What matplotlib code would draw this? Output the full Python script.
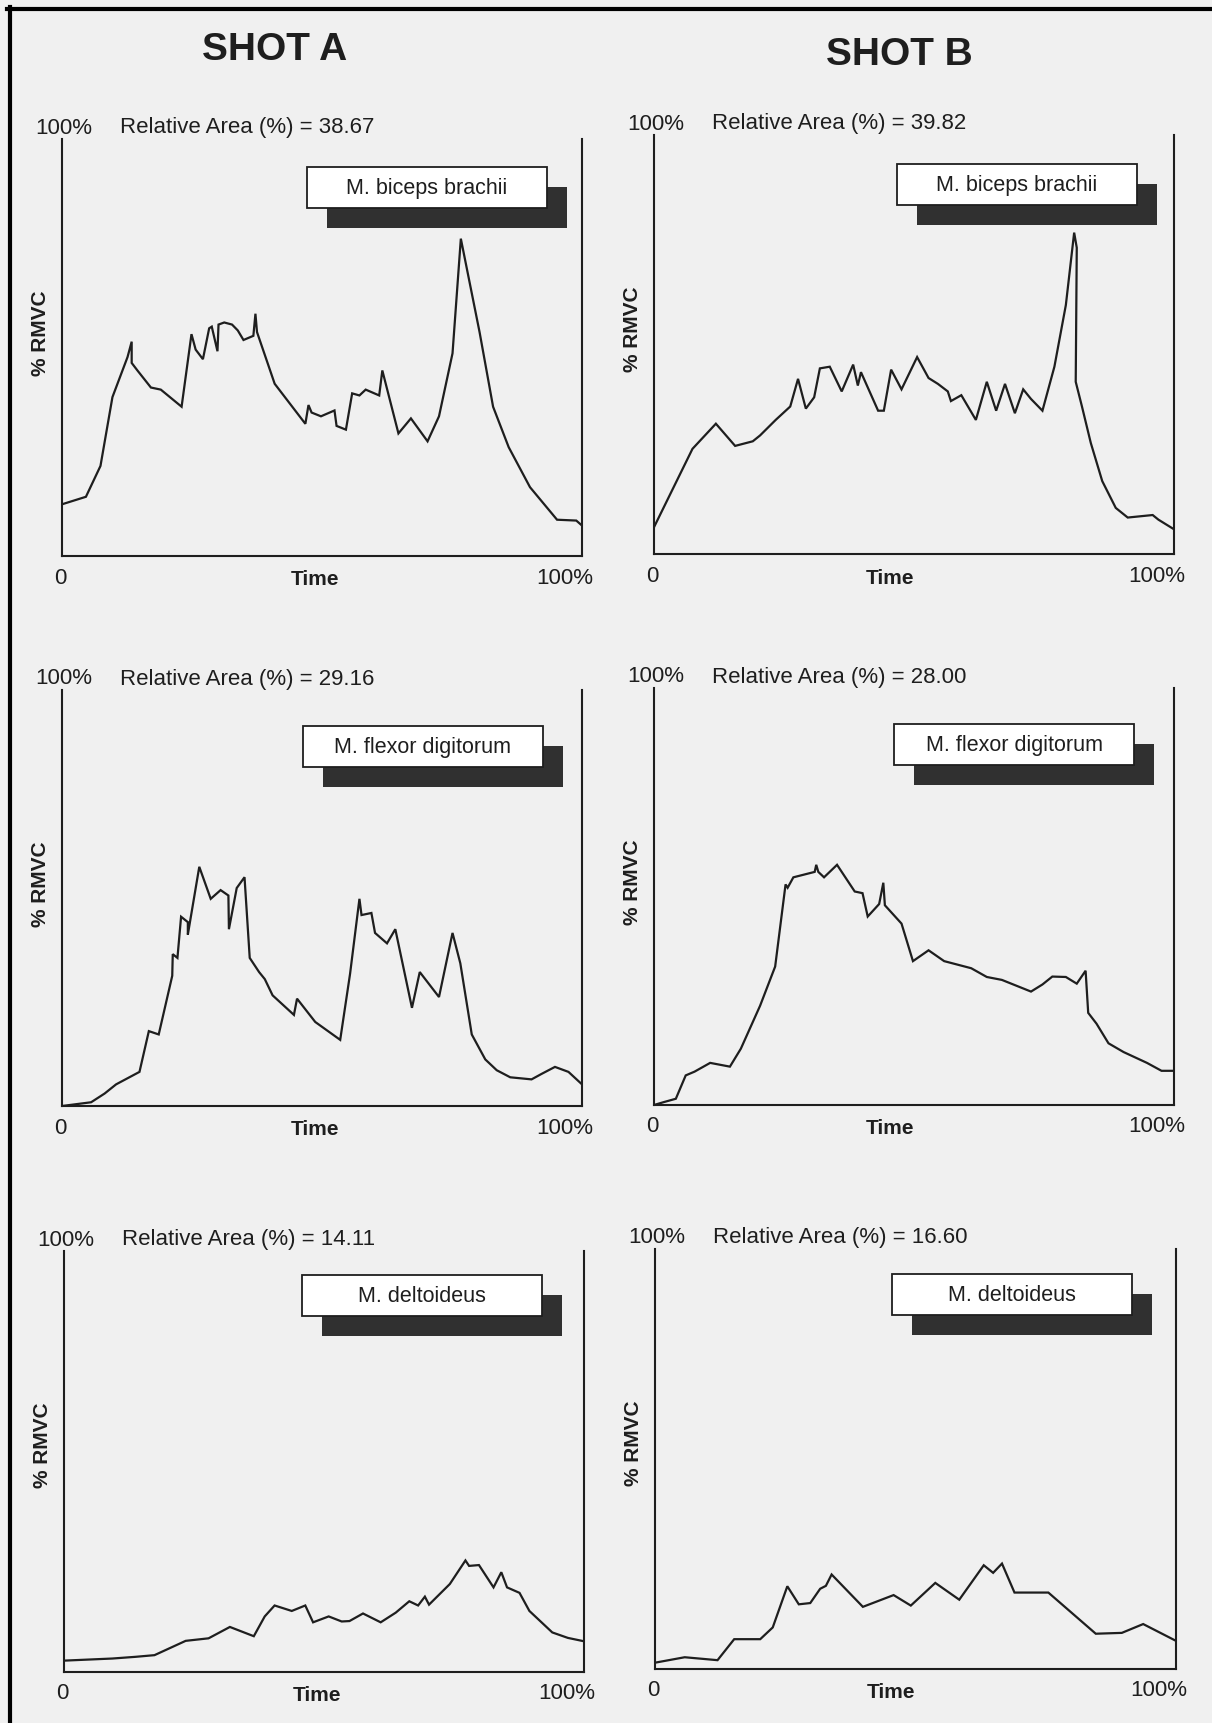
import matplotlib
matplotlib.use("Agg")
import matplotlib.pyplot as plt
from matplotlib.patches import Rectangle
from matplotlib.lines import Line2D

plt.rcParams['font.family'] = ['Liberation Sans', 'DejaVu Sans']

# ---------------- data (time %, %RMVC) ----------------
shot_titles = ["SHOT A", "SHOT B"]
muscles = ["M. biceps brachii", "M. flexor digitorum", "M. deltoideus"]
rel_area_a = ["38.67", "29.16", "14.11"]
rel_area_b = ["39.82", "28.00", "16.60"]

a_biceps_x = [0, 4.6, 7.4, 9.7, 12.6, 13.4, 13.4, 14.5, 17.1, 19.0, 23.0, 24.9, 25.7, 27.1, 28.3, 28.8,
              29.9, 30.1, 31.2, 32.7, 33.8, 34.9, 36.8, 37.2, 37.5, 40.9, 46.8, 47.4, 48.0, 49.8, 52.4,
              52.8, 54.6, 55.8, 57.2, 58.4, 61.0, 61.6, 64.7, 67.1, 70.3, 72.5, 75.1, 76.7, 80.3, 82.9,
              85.9, 90.0, 95.2, 98.9, 100]
a_biceps_y = [12.4, 14.2, 21.6, 38.1, 47.7, 51.4, 46.3, 44.5, 40.4, 39.9, 35.8, 53.2, 49.5, 47.2, 54.6, 55.0,
              49.1, 55.5, 56.0, 55.5, 54.1, 51.8, 52.8, 58.1, 53.7, 41.3, 31.7, 36.2, 34.4, 33.5, 34.9,
              31.2, 30.3, 39.0, 38.5, 39.9, 38.5, 44.5, 29.4, 33.0, 27.5, 33.5, 48.6, 76.1, 53.7, 35.8,
              26.1, 16.5, 8.7, 8.5, 7.3]

b_biceps_x = [0, 7.4, 11.9, 15.6, 19.0, 20.4, 23.4, 26.2, 27.7, 29.2, 30.8, 31.9, 33.8, 36.1, 38.3, 39.2,
              39.8, 43.1, 44.2, 45.6, 47.6, 50.6, 52.8, 54.6, 56.5, 57.1, 59.1, 61.9, 64.0, 65.8, 67.5,
              69.4, 71.0, 72.5, 74.7, 77.0, 79.2, 80.8, 81.3, 81.1, 82.3, 84.0, 86.2, 88.8, 91.1, 95.9,
              97.0, 100]
b_biceps_y = [6.4, 25.1, 31.1, 25.8, 26.9, 28.3, 32.0, 35.2, 41.8, 34.7, 37.4, 44.3, 44.7, 38.8, 45.2, 40.2,
              43.4, 34.2, 34.2, 44.0, 39.3, 47.0, 42.0, 40.6, 38.8, 36.5, 37.9, 32.0, 41.1, 34.2, 40.6,
              33.6, 39.3, 37.0, 34.2, 44.7, 59.4, 76.7, 73.1, 41.1, 35.2, 26.5, 17.4, 11.0, 8.7, 9.3,
              8.2, 5.9]

a_flexor_x = [0, 5.6, 8.2, 10.4, 11.9, 14.9, 16.7, 18.6, 21.2, 21.3, 22.2, 22.9, 24.2, 24.2, 26.4, 28.6,
              30.5, 32.0, 32.1, 33.6, 35.1, 36.1, 37.9, 39.0, 40.5, 44.6, 45.2, 48.7, 53.5, 55.4, 57.2,
              57.6, 59.5, 60.2, 62.5, 64.1, 67.3, 68.8, 72.5, 75.1, 76.6, 78.8, 81.4, 83.6, 86.2, 90.3,
              92.2, 94.8, 97.4, 100]
a_flexor_y = [0, 0.9, 3.0, 5.2, 6.2, 8.2, 18.0, 17.2, 31.3, 36.5, 35.6, 45.5, 44.2, 41.2, 57.5, 49.8,
              51.9, 50.6, 42.5, 52.4, 55.0, 35.6, 32.2, 30.5, 26.6, 21.9, 25.8, 20.2, 15.9, 31.8, 49.8,
              45.9, 46.4, 41.6, 39.1, 42.5, 23.6, 32.2, 26.2, 41.6, 34.3, 17.2, 11.2, 8.6, 6.9, 6.4,
              7.7, 9.4, 8.2, 5.2]

b_flexor_x = [0, 1.9, 4.2, 6.1, 7.8, 10.8, 14.6, 16.7, 20.4, 23.3, 25.3, 25.7, 26.8, 30.9, 31.2, 31.6,
              32.7, 35.2, 38.6, 40.1, 41.1, 43.3, 44.1, 44.4, 47.6, 49.8, 52.8, 55.8, 61.0, 64.0, 66.9,
              72.5, 74.7, 76.6, 79.2, 81.3, 83.0, 83.5, 85.1, 87.4, 90.3, 94.8, 97.6, 100]
b_flexor_y = [0, 0.7, 1.5, 7.1, 8.0, 10.1, 9.2, 13.5, 23.8, 33.2, 52.9, 52.1, 54.6, 55.9, 57.6, 55.9,
              54.6, 57.6, 51.2, 50.8, 45.2, 48.2, 53.3, 47.9, 43.5, 34.5, 37.1, 34.5, 32.8, 30.7, 30.0,
              27.2, 28.9, 30.8, 30.7, 29.1, 32.2, 22.1, 19.5, 14.8, 12.7, 10.1, 8.2, 8.2]

a_delt_x = [0, 9.3, 13.7, 17.4, 20.4, 23.4, 27.8, 31.9, 36.5, 38.6, 40.5, 43.8, 46.4, 47.9, 50.9, 53.4,
            54.9, 57.5, 60.9, 63.8, 66.4, 68.1, 69.4, 70.2, 74.2, 77.2, 77.9, 79.8, 82.6, 84.1, 85.2,
            87.6, 89.5, 93.9, 96.9, 100]
a_delt_y = [2.7, 3.2, 3.6, 4.0, 5.7, 7.4, 8.0, 10.7, 8.5, 13.2, 15.8, 14.5, 15.8, 11.8, 13.2, 12.0,
            12.1, 13.9, 11.8, 14.1, 16.8, 15.8, 17.9, 16.0, 20.9, 26.5, 25.2, 25.4, 20.1, 23.7, 20.1,
            18.8, 14.5, 9.4, 8.1, 7.3]

b_delt_x = [0, 5.7, 12.0, 15.2, 20.2, 22.6, 25.4, 27.6, 29.8, 31.7, 32.8, 33.9, 39.9, 45.8, 49.1, 53.8,
            58.4, 63.1, 64.9, 66.6, 69.0, 75.5, 84.6, 89.6, 93.7, 100]
b_delt_y = [1.5, 2.8, 2.1, 7.1, 7.1, 9.9, 19.7, 15.4, 15.7, 19.1, 19.8, 22.5, 14.8, 17.6, 15.1, 20.5,
            16.5, 24.7, 22.9, 25.1, 18.2, 18.2, 8.4, 8.6, 10.7, 6.7]

series = [
    [(a_biceps_x, a_biceps_y), (b_biceps_x, b_biceps_y)],
    [(a_flexor_x, a_flexor_y), (b_flexor_x, b_flexor_y)],
    [(a_delt_x, a_delt_y), (b_delt_x, b_delt_y)],
]

# ---------------- layout (pixels) ----------------
W, H = 1212, 1724
fig = plt.figure(figsize=(W / 100, H / 100), dpi=100)
fig.patch.set_facecolor('#f0f0f0')
INK = '#1e1e1e'

def fx(x):
    return x / W

def fy(y):
    return 1 - y / H

# panel rectangles: left, top, right, bottom
panels = [
    [(62, 140, 582, 557), (654, 136, 1174, 555)],
    [(62, 691, 582, 1107), (654, 689, 1174, 1106)],
    [(64, 1252, 584, 1673), (655, 1250, 1176, 1670)],
]
boxes = [
    [(307, 168), (897, 165)],
    [(303, 727), (894, 725)],
    [(302, 1276), (892, 1275)],
]
BOX_W, BOX_H, SH = 240, 41, 20
time_off = [253, 236]

# scan border (top and left)
fig.add_artist(Line2D([fx(7), fx(W)], [fy(10), fy(10)], color='black', lw=3.0,
                      transform=fig.transFigure))
fig.add_artist(Line2D([fx(9.5), fx(9.5)], [fy(8), fy(H)], color='black', lw=3.0,
                      transform=fig.transFigure))

# titles
fig.text(fx(275), fy(50), shot_titles[0], fontsize=28, fontweight='bold', color=INK,
         ha='center', va='center')
fig.text(fx(899), fy(55), shot_titles[1], fontsize=28, fontweight='bold', color=INK,
         ha='center', va='center')

for r in range(3):
    for c in range(2):
        L, T, R, B = panels[r][c]
        ax = fig.add_axes([fx(L), fy(B), fx(R) - fx(L), (B - T) / H])
        ax.set_facecolor('none')
        xs, ys = series[r][c]
        ax.plot(xs, ys, color=INK, lw=1.6, solid_joinstyle='miter')
        ax.set_xlim(0, 100)
        ax.set_ylim(0, 100)
        ax.set_xticks([])
        ax.set_yticks([])
        ax.spines['top'].set_visible(False)
        for s in ('left', 'right', 'bottom'):
            ax.spines[s].set_linewidth(1.5)
            ax.spines[s].set_color(INK)

        # top texts
        area = rel_area_a[r] if c == 0 else rel_area_b[r]
        fig.text(fx(L + 2), fy(T - 12), "100%", fontsize=16, color=INK, ha='center', va='center')
        fig.text(fx(L + 58), fy(T - 12), f"Relative Area (%) = {area}", fontsize=16, color=INK,
                 ha='left', va='center')
        # bottom texts
        fig.text(fx(L - 2), fy(B + 21), "0", fontsize=16, color=INK, ha='center', va='center')
        fig.text(fx(L + time_off[c]), fy(B + 23), "Time", fontsize=15, fontweight='bold', color=INK,
                 ha='center', va='center')
        fig.text(fx(R - 17), fy(B + 21), "100%", fontsize=16, color=INK, ha='center', va='center')
        # y label
        fig.text(fx(L - 21), fy(T + 193), "% RMVC", fontsize=15, fontweight='bold', color=INK,
                 rotation=90, ha='center', va='center')

        # label box with shadow
        bx, by = boxes[r][c]
        fig.add_artist(Rectangle((fx(bx + SH), fy(by + SH + BOX_H)), BOX_W / W, BOX_H / H,
                                 transform=fig.transFigure, facecolor='#303030',
                                 edgecolor='none', zorder=5))
        fig.add_artist(Rectangle((fx(bx), fy(by + BOX_H)), BOX_W / W, BOX_H / H,
                                 transform=fig.transFigure, facecolor='white',
                                 edgecolor=INK, lw=1.3, zorder=6))
        fig.text(fx(bx + BOX_W / 2), fy(by + BOX_H / 2), muscles[r], fontsize=15.5, color=INK,
                 ha='center', va='center', zorder=7)

fig.savefig("out.png", dpi=100, facecolor=fig.get_facecolor())
